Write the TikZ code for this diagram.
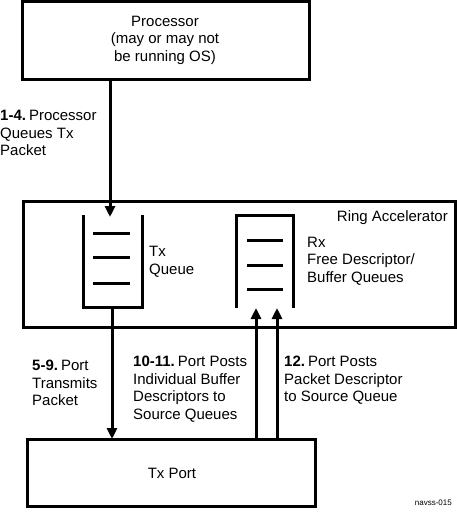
\documentclass[tikz,border=0pt]{standalone}
\usepackage{fontspec}
\setmainfont{Liberation Sans}
\usetikzlibrary{arrows.meta}
\newcommand{\numsp}{\hspace{3pt}}
\begin{document}
\begin{tikzpicture}[x=1pt,y=-1pt,
  box/.style={draw,line width=3pt},
  wall/.style={line width=3pt},
  conn/.style={line width=3pt,-{Triangle[length=11pt,width=10pt]}},
  txt/.style={inner sep=0pt,font=\fontsize{15}{17.5}\selectfont,align=left},
  ctxt/.style={inner sep=0pt,font=\fontsize{15}{17.5}\selectfont,align=center}]
\useasboundingbox (0,0) rectangle (457,519);
% boxes
\draw[box] (22,2) rectangle (309,79);
\node[ctxt] (proc) at (165,40) {Processor\\(may or may not\\be running OS)};
\coordinate (procbot) at (110,79);
\draw[box] (23,201) rectangle (455,327);
\node[txt,anchor=north east] (ring) at (448,210) {Ring Accelerator};
\draw[box] (27,439) rectangle (315,506);
\node[ctxt] (txport) at (172,473) {Tx Port};
% Tx queue
\draw[wall] (83,215) -- (83,307) -- (142,307) -- (142,215);
\draw[wall] (93,233) -- (130,233);
\draw[wall] (93,257) -- (130,257);
\draw[wall] (93,283) -- (130,283);
\node[txt,anchor=west] (txq) at (149,262) {Tx\\Queue};
\coordinate (txqtop) at (110,217);
\coordinate (txqbot) at (112,307);
% Rx queue
\draw[wall] (236,308) -- (236,215) -- (293,215) -- (293,308);
\draw[wall] (247,240) -- (283,240);
\draw[wall] (247,265) -- (283,265);
\draw[wall] (247,289) -- (283,289);
\node[txt,anchor=west] (rxq) at (307,261) {Rx\\Free Descriptor/\\Buffer Queues};
% connectors
\coordinate (tp1) at (112,439);
\coordinate (tpa) at (256,439);
\coordinate (tpb) at (277,439);
\coordinate (rxa) at (256,308);
\coordinate (rxb) at (277,308);
\draw[conn] (procbot) -- (txqtop);
\draw[conn] (txqbot) -- (tp1);
\draw[conn] (tpa) -- (rxa);
\draw[conn] (tpb) -- (rxb);
% labels
\node[txt,anchor=north west] (l1) at (0,110) {\textbf{1-4.}\numsp Processor\\Queues Tx\\Packet};
\node[txt,anchor=north west] (l2) at (32,360) {\textbf{5-9.}\numsp Port\\Transmits\\Packet};
\node[txt,anchor=north west] (l3) at (133,356) {\textbf{10-11.}\numsp Port Posts\\Individual Buffer\\Descriptors to\\Source Queues};
\node[txt,anchor=north west] (l4) at (284,356) {\textbf{12.}\numsp Port Posts\\Packet Descriptor\\to Source Queue};
\node[inner sep=0pt,font=\fontsize{8}{10}\selectfont,anchor=east] (tag) at (452,503) {navss-015};
\end{tikzpicture}
\end{document}
